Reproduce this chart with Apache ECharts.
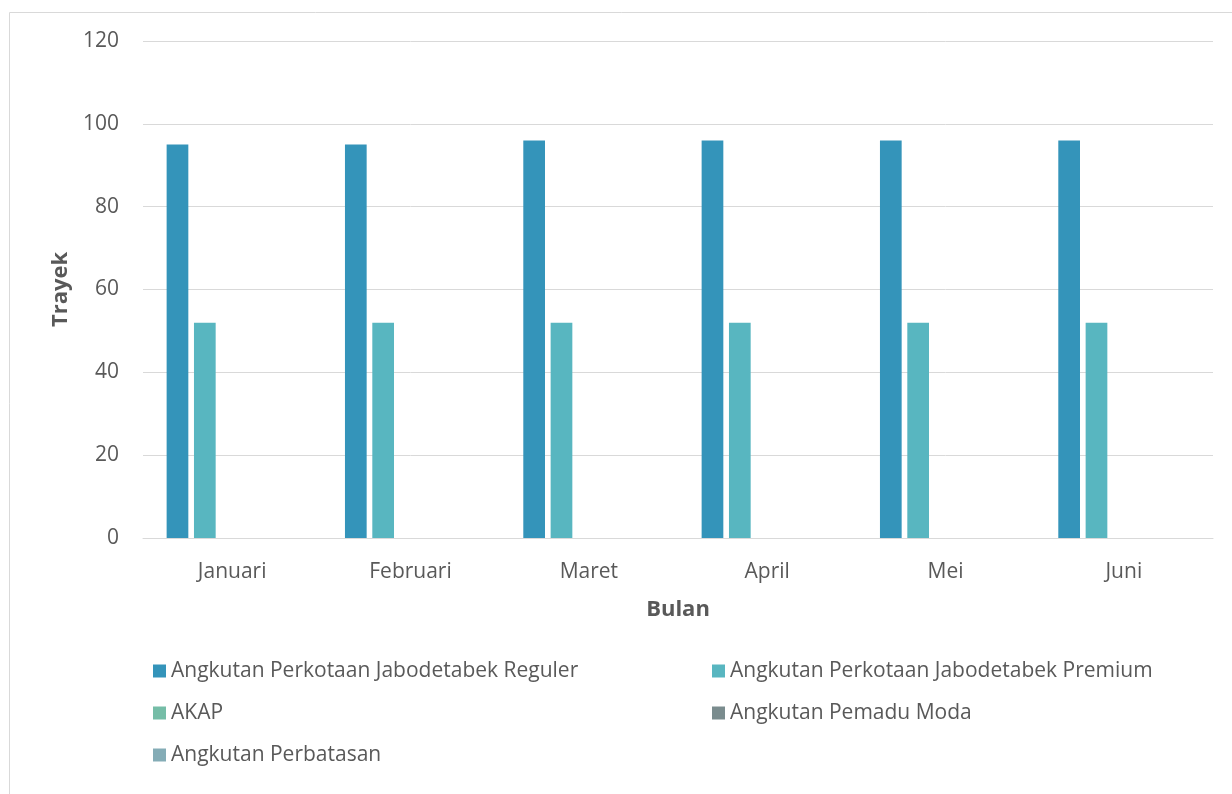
<!DOCTYPE html>
<html>
<head>
<meta charset="utf-8">
<script src="https://cdn.jsdelivr.net/npm/echarts@6/dist/echarts.min.js"></script>
<style>
html,body{margin:0;padding:0;background:#fff;}
#chart{width:1232px;height:794px;}
</style>
</head>
<body>
<div id="chart"></div>
<script>
const categories = ['Januari', 'Februari', 'Maret', 'April', 'Mei', 'Juni'];
const seriesNames = [
  'Angkutan Perkotaan Jabodetabek Reguler',
  'Angkutan Perkotaan Jabodetabek Premium',
  'AKAP',
  'Angkutan Pemadu Moda',
  'Angkutan Perbatasan'
];
const reguler = [95, 95, 96, 96, 96, 96];
const premium = [52, 52, 52, 52, 52, 52];
const akap = [0, 0, 0, 0, 0, 0];
const pemaduModa = [0, 0, 0, 0, 0, 0];
const perbatasan = [0, 0, 0, 0, 0, 0];
const yTicks = { min: 0, max: 120, interval: 20 };

const colors = ['#3494BA', '#58B6C0', '#75BDA7', '#7A8C8E', '#84ACB6'];
const values = [reguler, premium, akap, pemaduModa, perbatasan];
const font = '"Open Sans", "Noto Sans", sans-serif';
const textColor = '#595959';

const chart = echarts.init(document.getElementById('chart'), null, { renderer: 'canvas' });

const legendCommon = {
  orient: 'vertical',
  padding: 0,
  itemWidth: 13,
  itemHeight: 13,
  itemGap: 20,
  icon: 'rect',
  textStyle: { fontFamily: font, fontSize: 21, color: textColor, lineHeight: 22 },
  selectedMode: false
};

chart.setOption({
  animation: false,
  color: colors,
  graphic: [{
    type: 'rect',
    shape: { x: 9.5, y: 12.5, width: 1300, height: 900 },
    style: { fill: 'none', stroke: '#D9D9D9', lineWidth: 1 },
    silent: true,
    z: -1
  }],
  grid: { left: 143, right: 19, top: 41, bottom: 256, containLabel: false },
  legend: [
    Object.assign({}, legendCommon, { left: 153, top: 660, data: [seriesNames[0], seriesNames[2], seriesNames[4]] }),
    Object.assign({}, legendCommon, { left: 712, top: 660, data: [seriesNames[1], seriesNames[3]] })
  ],
  xAxis: {
    type: 'category',
    data: categories,
    name: 'Bulan',
    nameLocation: 'middle',
    nameGap: 61,
    nameTextStyle: { fontFamily: font, fontSize: 22, fontWeight: 'bold', color: textColor },
    axisLine: { show: true, lineStyle: { color: '#D9D9D9', width: 1 } },
    axisTick: { show: false },
    axisLabel: { fontFamily: font, fontSize: 21, color: textColor, margin: 24 }
  },
  yAxis: {
    type: 'value',
    min: yTicks.min,
    max: yTicks.max,
    interval: yTicks.interval,
    name: 'Trayek',
    nameLocation: 'middle',
    nameGap: 70,
    nameRotate: 90,
    nameTextStyle: { fontFamily: font, fontSize: 22, fontWeight: 'bold', color: textColor },
    axisLine: { show: false },
    axisTick: { show: false },
    axisLabel: { fontFamily: font, fontSize: 21, color: textColor, margin: 24 },
    splitLine: { lineStyle: { color: '#D9D9D9', width: 1 } }
  },
  series: seriesNames.map((name, i) => ({
    name: name,
    type: 'bar',
    data: values[i],
    barGap: '26%',
    barCategoryGap: '26.5%',
    itemStyle: { color: colors[i] }
  }))
});
</script>
</body>
</html>
